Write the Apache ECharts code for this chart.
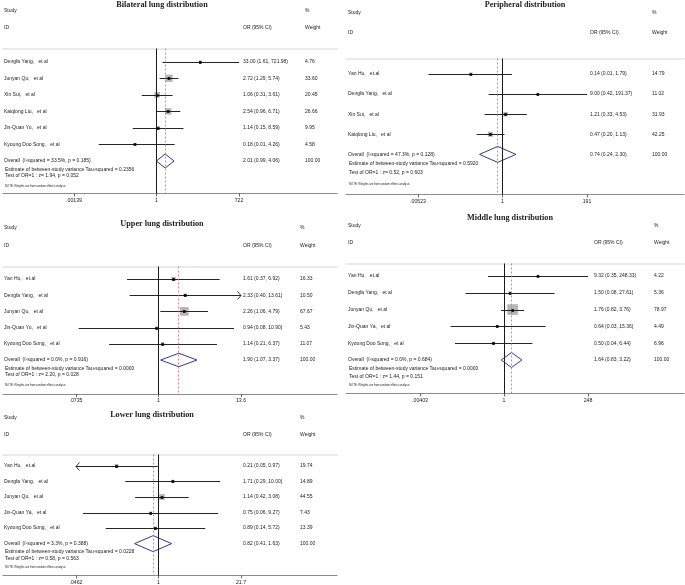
<!DOCTYPE html>
<html>
<head>
<meta charset="utf-8">
<script src="https://cdn.jsdelivr.net/npm/echarts@6/dist/echarts.min.js"></script>
<style>
html, body { margin: 0; padding: 0; background: #fff; }
#chart { width: 685px; height: 585px; }
</style>
</head>
<body>
<div id="chart"></div>
<script>
// Bilateral lung distribution
var bilateralStudies = ['Dengfa Yang,   et al', 'Junyan Qu,   et al', 'Xin Sui,   et al', 'Kaiqlong Liu,   et al', 'Jin-Quan Yu,   et al', 'Kyoung Doo Song,   et al'];
var bilateralOR = [33.00, 2.72, 1.06, 2.54, 1.14, 0.18];
var bilateralLow = [1.61, 1.29, 0.31, 0.96, 0.15, 0.01];
var bilateralHigh = [721.98, 5.74, 3.61, 6.71, 8.59, 4.26];
var bilateralWeight = [4.76, 33.60, 20.45, 26.66, 9.95, 4.58];
var bilateralArrows = ['', '', '', '', '', ''];
var bilateralOverall = [2.01, 0.99, 4.06];   // OR, low, high
var bilateralHetero = [33.5, 0.185];          // I-squared, p
var bilateralTau2 = 0.2356;
var bilateralTest = [1.94, 0.052];            // z, p
var bilateralTicks = [0.00139, 1, 722];
var bilateralTickLabels = ['.00139', '1', '722'];

// Peripheral distribution
var peripheralStudies = ['Yan Hu,   et.al', 'Dengfa Yang,   et al', 'Xin Sui,   et al', 'Kaiqlong Liu,   et al'];
var peripheralOR = [0.14, 9.00, 1.21, 0.47];
var peripheralLow = [0.01, 0.42, 0.33, 0.20];
var peripheralHigh = [1.79, 191.37, 4.53, 1.13];
var peripheralWeight = [14.79, 11.02, 31.93, 42.25];
var peripheralArrows = ['', '', '', ''];
var peripheralOverall = [0.74, 0.24, 2.30];
var peripheralHetero = [47.3, 0.128];
var peripheralTau2 = 0.5920;
var peripheralTest = [0.52, 0.603];
var peripheralTicks = [0.00523, 1, 191];
var peripheralTickLabels = ['.00523', '1', '191'];

// Upper lung distribution
var upperStudies = ['Yan Hu,   et.al', 'Dengfa Yang,   et al', 'Junyan Qu,   et al', 'Jin-Quan Yu,   et al', 'Kyoung Doo Song,   et al'];
var upperOR = [1.61, 2.33, 2.26, 0.94, 1.14];
var upperLow = [0.37, 0.40, 1.06, 0.08, 0.21];
var upperHigh = [6.92, 13.61, 4.79, 10.90, 6.37];
var upperWeight = [16.33, 10.50, 67.67, 5.43, 11.07];
var upperArrows = ['', 'right', '', '', ''];
var upperOverall = [1.90, 1.07, 3.37];
var upperHetero = [0.0, 0.916];
var upperTau2 = 0.0000;
var upperTest = [2.20, 0.028];
var upperTicks = [0.0735, 1, 13.6];
var upperTickLabels = ['.0735', '1', '13.6'];

// Middle lung distribution
var middleStudies = ['Yan Hu,   et.al', 'Dengfa Yang,   et al', 'Junyan Qu,   et al', 'Jin-Quan Ya,   et al', 'Kyoung Doo Song,   et al'];
var middleOR = [9.32, 1.50, 1.76, 0.64, 0.50];
var middleLow = [0.35, 0.08, 0.82, 0.03, 0.04];
var middleHigh = [248.33, 27.61, 3.76, 15.36, 6.44];
var middleWeight = [4.22, 5.36, 78.97, 4.49, 6.96];
var middleArrows = ['', '', '', '', ''];
var middleOverall = [1.64, 0.83, 3.22];
var middleHetero = [0.0, 0.684];
var middleTau2 = 0.0000;
var middleTest = [1.44, 0.151];
var middleTicks = [0.00403, 1, 248];
var middleTickLabels = ['.00403', '1', '248'];

// Lower lung distribution
var lowerStudies = ['Yan Hu,   et.al', 'Dengfa Yang,   et al', 'Junyan Qu,   et al', 'Jin-Quan Ya,   et al', 'Kyoung Doo Song,   et al'];
var lowerOR = [0.21, 1.71, 1.14, 0.75, 0.89];
var lowerLow = [0.05, 0.29, 0.42, 0.06, 0.14];
var lowerHigh = [0.97, 10.00, 3.08, 9.27, 5.72];
var lowerWeight = [19.74, 14.89, 44.55, 7.43, 13.39];
var lowerArrows = ['left', '', '', '', ''];
var lowerOverall = [0.82, 0.41, 1.63];
var lowerHetero = [3.3, 0.388];
var lowerTau2 = 0.0228;
var lowerTest = [0.58, 0.563];
var lowerTicks = [0.0462, 1, 21.7];
var lowerTickLabels = ['.0462', '1', '21.7'];

var SANS = '"Liberation Sans", Arial, sans-serif';
var SERIF = '"Liberation Serif", "Times New Roman", serif';
var INK = '#222';

var panels = [
    {
        title: 'Bilateral lung distribution',
        studies: bilateralStudies, or: bilateralOR, low: bilateralLow, high: bilateralHigh, weight: bilateralWeight,
        arrows: bilateralArrows, overall: bilateralOverall, hetero: bilateralHetero, tau2: bilateralTau2,
        test: bilateralTest, ticks: bilateralTicks, tickLabels: bilateralTickLabels,
        L: {x0: 3, x1: 337, top: 48.5, bottom: 193.5, rowY: 61.7, rowStep: 16.55, tickPx: [74, 239],
            titleX: 162, titleY: 5, headY: [11, 28], nameX: 4, orX: 243, wX: 305,
            foot: [8.5, 15, 25], box: 1.25, diamond: 14}
    },
    {
        title: 'Peripheral distribution',
        studies: peripheralStudies, or: peripheralOR, low: peripheralLow, high: peripheralHigh, weight: peripheralWeight,
        arrows: peripheralArrows, overall: peripheralOverall, hetero: peripheralHetero, tau2: peripheralTau2,
        test: peripheralTest, ticks: peripheralTicks, tickLabels: peripheralTickLabels,
        L: {x0: 346, x1: 684, top: 58.5, bottom: 194.5, rowY: 74, rowStep: 20.1, tickPx: [418, 587],
            titleX: 525, titleY: 5, headY: [13, 33], nameX: 348, orX: 590, wX: 652,
            foot: [9.7, 18, 29.7], box: 0.78, diamond: 16}
    },
    {
        title: 'Upper lung distribution',
        studies: upperStudies, or: upperOR, low: upperLow, high: upperHigh, weight: upperWeight,
        arrows: upperArrows, overall: upperOverall, hetero: upperHetero, tau2: upperTau2,
        test: upperTest, ticks: upperTicks, tickLabels: upperTickLabels,
        L: {x0: 3, x1: 337, top: 266.5, bottom: 394, rowY: 279, rowStep: 16.2, tickPx: [76, 241],
            titleX: 162, titleY: 224, headY: [228, 246], nameX: 4, orX: 243, wX: 300,
            foot: [8.3, 15, 25], box: 1.05, diamond: 13.5}
    },
    {
        title: 'Middle lung distribution',
        studies: middleStudies, or: middleOR, low: middleLow, high: middleHigh, weight: middleWeight,
        arrows: middleArrows, overall: middleOverall, hetero: middleHetero, tau2: middleTau2,
        test: middleTest, ticks: middleTicks, tickLabels: middleTickLabels,
        L: {x0: 346, x1: 684, top: 263.5, bottom: 393.5, rowY: 276, rowStep: 16.8, tickPx: [420, 588],
            titleX: 510, titleY: 218, headY: [226, 243], nameX: 348, orX: 594, wX: 654,
            foot: [8.3, 16.7, 25.7], box: 1.2, diamond: 15}
    },
    {
        title: 'Lower lung distribution',
        studies: lowerStudies, or: lowerOR, low: lowerLow, high: lowerHigh, weight: lowerWeight,
        arrows: lowerArrows, overall: lowerOverall, hetero: lowerHetero, tau2: lowerTau2,
        test: lowerTest, ticks: lowerTicks, tickLabels: lowerTickLabels,
        L: {x0: 3, x1: 337, top: 454.5, bottom: 576.7, rowY: 466, rowStep: 15.7, tickPx: [76, 241],
            titleX: 152, titleY: 415, headY: [418, 435], nameX: 4, orX: 243, wX: 300,
            foot: [8, 14.7, 24], box: 0.85, diamond: 16}
    }
];

function textEl(x, y, s, font, align) {
    return {
        type: 'text', x: x, y: y, silent: true,
        style: {text: s, font: font, fill: INK, textAlign: align || 'left', textVerticalAlign: 'middle'}
    };
}

function ciText(o, l, h) {
    return o.toFixed(2) + ' (' + l.toFixed(2) + ', ' + h.toFixed(2) + ')';
}

var option = {
    animation: false,
    backgroundColor: '#ffffff',
    grid: [],
    xAxis: [],
    yAxis: [],
    series: [],
    graphic: {elements: []}
};

panels.forEach(function (p, k) {
    var L = p.L;
    var n = p.or.length;
    var tickLn = p.ticks.map(function (t) { return Math.log(t); });
    var lnA = tickLn[0], lnB = tickLn[2];
    var perLn = (L.tickPx[1] - L.tickPx[0]) / (lnB - lnA);
    var xMin = lnA + (L.x0 - L.tickPx[0]) / perLn;
    var xMax = lnA + (L.x1 - L.tickPx[0]) / perLn;
    var xi = option.xAxis.length;

    option.grid.push({left: L.x0, top: L.top, width: L.x1 - L.x0, height: L.bottom - L.top});

    option.xAxis.push({
        type: 'value', gridIndex: k, min: xMin, max: xMax, position: 'bottom',
        splitLine: {show: false},
        axisLine: {onZero: false, lineStyle: {color: '#8c8c8c', width: 1.2}},
        axisTick: {customValues: tickLn, length: 3, lineStyle: {color: '#444', width: 0.8}},
        axisLabel: {
            customValues: tickLn, margin: 4.5, fontSize: 5.2, color: INK, fontFamily: SANS,
            formatter: function (v) {
                var best = 0;
                tickLn.forEach(function (t, j) { if (Math.abs(t - v) < Math.abs(tickLn[best] - v)) best = j; });
                return p.tickLabels[best];
            }
        }
    });
    // thin separator under the column headers
    option.xAxis.push({
        type: 'value', gridIndex: k, min: xMin, max: xMax, position: 'top',
        splitLine: {show: false}, axisTick: {show: false}, axisLabel: {show: false},
        axisLine: {onZero: false, lineStyle: {color: '#e3e3e3', width: 1.5}}
    });
    option.yAxis.push({
        type: 'value', gridIndex: k, inverse: true, show: false,
        min: (L.top - L.rowY) / L.rowStep, max: (L.bottom - L.rowY) / L.rowStep
    });

    // no-effect line and pooled estimate line
    option.series.push({
        type: 'line', xAxisIndex: xi, yAxisIndex: k, z: 1, silent: true,
        symbol: 'none', showSymbol: false, lineStyle: {width: 0},
        data: [[Math.log(p.overall[0]), n]],
        markLine: {
            silent: true, symbol: ['none', 'none'], label: {show: false}, animation: false,
            data: [
                {xAxis: 0, lineStyle: {color: '#1a1a1a', width: 1, type: 'solid'}},
                {xAxis: Math.log(p.overall[0]), lineStyle: {color: '#d46a6a', width: 0.8, type: [2, 2]}}
            ]
        }
    });

    // studies
    option.series.push({
        type: 'custom', xAxisIndex: xi, yAxisIndex: k, z: 3, silent: true,
        data: p.or.map(function (v, i) { return [Math.log(v), i]; }),
        renderItem: function (params, api) {
            var i = params.dataIndex;
            var c = api.coord([api.value(0), i]);
            var y = Math.round(c[1]) + 0.5;
            var lo = Math.max(Math.log(p.low[i]), lnA);
            var hi = Math.min(Math.log(p.high[i]), lnB);
            if (p.arrows[i] === 'left') lo = lnA;
            if (p.arrows[i] === 'right') hi = lnB;
            var pl = api.coord([lo, i])[0], ph = api.coord([hi, i])[0];
            var s = L.box * Math.sqrt(p.weight[i]);
            var kids = [
                {type: 'rect', shape: {x: c[0] - s / 2, y: c[1] - s / 2, width: s, height: s}, style: {fill: '#b5b5b5'}},
                {type: 'line', shape: {x1: pl, y1: y, x2: ph, y2: y}, style: {stroke: '#262626', lineWidth: 1}},
                {type: 'rect', shape: {x: c[0] - 1.3, y: y - 1.3, width: 2.6, height: 2.6}, style: {fill: '#000'}},
                textEl(L.nameX, c[1], p.studies[i], '5px ' + SANS),
                textEl(L.orX, c[1], ciText(p.or[i], p.low[i], p.high[i]), '5px ' + SANS),
                textEl(L.wX, c[1], p.weight[i].toFixed(2), '5px ' + SANS)
            ];
            if (p.arrows[i] === 'right') {
                kids.push({type: 'polyline', shape: {points: [[ph - 3.5, y - 4], [ph, y], [ph - 3.5, y + 4]]},
                    style: {stroke: '#262626', lineWidth: 0.9, fill: null}});
            }
            if (p.arrows[i] === 'left') {
                kids.push({type: 'polyline', shape: {points: [[pl + 3.5, y - 4], [pl, y], [pl + 3.5, y + 4]]},
                    style: {stroke: '#262626', lineWidth: 0.9, fill: null}});
            }
            return {type: 'group', children: kids};
        }
    });

    // pooled estimate
    option.series.push({
        type: 'custom', xAxisIndex: xi, yAxisIndex: k, z: 4, silent: true,
        data: [[Math.log(p.overall[0]), n]],
        renderItem: function (params, api) {
            var c = api.coord([api.value(0), n]);
            var l = api.coord([Math.log(p.overall[1]), n]);
            var h = api.coord([Math.log(p.overall[2]), n]);
            var d = L.diamond / 2;
            var f = L.foot;
            return {
                type: 'group',
                children: [
                    {type: 'polygon', shape: {points: [[l[0], c[1]], [c[0], c[1] - d], [h[0], c[1]], [c[0], c[1] + d]]},
                        style: {stroke: '#2b3c8e', lineWidth: 1, fill: null}},
                    textEl(L.nameX, c[1], 'Overall  (I-squared = ' + p.hetero[0].toFixed(1) + '%, p = ' + p.hetero[1].toFixed(3) + ')', '5px ' + SANS),
                    textEl(L.orX, c[1], ciText(p.overall[0], p.overall[1], p.overall[2]), '5px ' + SANS),
                    textEl(L.wX, c[1], '100.00', '5px ' + SANS),
                    textEl(L.nameX + 1, c[1] + f[0], 'Estimate of between-study variance Tau-squared = ' + p.tau2.toFixed(4), '5px ' + SANS),
                    textEl(L.nameX + 1, c[1] + f[1], 'Test of OR=1 : z= ' + p.test[0].toFixed(2) + ', p = ' + p.test[1].toFixed(3), '5px ' + SANS),
                    textEl(L.nameX + 1, c[1] + f[2], 'NOTE: Weights are from random effects analysis', '2.8px ' + SANS)
                ]
            };
        }
    });

    // titles and column headers
    var g = option.graphic.elements;
    g.push(textEl(L.titleX, L.titleY, p.title, 'bold 8.2px ' + SERIF, 'center'));
    g.push(textEl(L.nameX, L.headY[0], 'Study', '5px ' + SANS));
    g.push(textEl(L.wX, L.headY[0], '%', '5px ' + SANS));
    g.push(textEl(L.nameX, L.headY[1], 'ID', '5px ' + SANS));
    g.push(textEl(L.orX, L.headY[1], 'OR (95% CI)', '5px ' + SANS));
    g.push(textEl(L.wX, L.headY[1], 'Weight', '5px ' + SANS));
});

var chart = echarts.init(document.getElementById('chart'), null, {renderer: 'canvas'});
chart.setOption(option);
</script>
</body>
</html>
